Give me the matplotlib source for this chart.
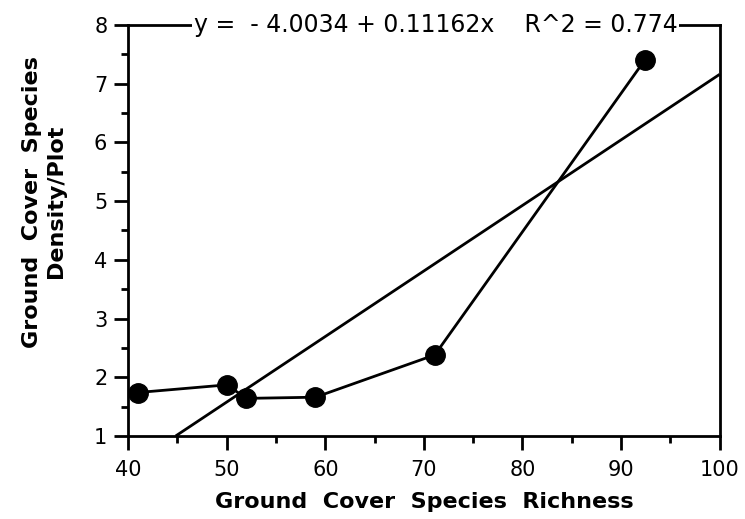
import matplotlib
matplotlib.use("Agg")
import matplotlib.pyplot as plt
import numpy as np
from matplotlib.ticker import MultipleLocator

richness = [41.0, 50.0, 52.0, 59.0, 71.1, 92.4]
density = [1.74, 1.87, 1.64, 1.66, 2.38, 7.40]
intercept = -4.0034
slope = 0.11162
eq_text = "y =  - 4.0034 + 0.11162x    R^2 = 0.774"
xlabel = "Ground  Cover  Species  Richness"
ylabel = "Ground  Cover  Species\nDensity/Plot"

plt.rcParams['font.family'] = ['DejaVu Sans']

fig = plt.figure(figsize=(7.45, 5.19), dpi=100)
ax = fig.add_axes([0.172, 0.160, 0.794, 0.792])

# regression line, clipped to axis range
x0 = (1 - intercept) / slope
xr = np.array([x0, 100.0])
ax.plot(xr, intercept + slope * xr, color='black', lw=2.0, solid_capstyle='butt')

ax.plot(richness, density, color='black', lw=2.0, marker='o', markersize=14,
        markerfacecolor='black', markeredgecolor='black')

ax.set_xlim(40, 100)
ax.set_ylim(1, 8)
ax.xaxis.set_major_locator(MultipleLocator(10))
ax.xaxis.set_minor_locator(MultipleLocator(5))
ax.yaxis.set_major_locator(MultipleLocator(1))
ax.yaxis.set_minor_locator(MultipleLocator(0.5))
ax.tick_params(which='major', direction='out', length=10, width=2.0, labelsize=15, pad=5)
ax.tick_params(axis='x', which='major', pad=7)
ax.tick_params(which='minor', direction='out', length=5, width=2.0)
for s in ax.spines.values():
    s.set_linewidth(2.0)

ax.set_xlabel(xlabel, fontsize=16, fontweight='bold', labelpad=9)
ax.set_ylabel(ylabel, fontsize=16, fontweight='bold', linespacing=1.25)
ax.yaxis.set_label_coords(-0.105, 0.57)

ax.text(0.52, 1.0, eq_text, transform=ax.transAxes, ha='center', va='center',
        fontsize=17, bbox=dict(facecolor='white', edgecolor='none', pad=1))

fig.savefig("out.png", dpi=100)
